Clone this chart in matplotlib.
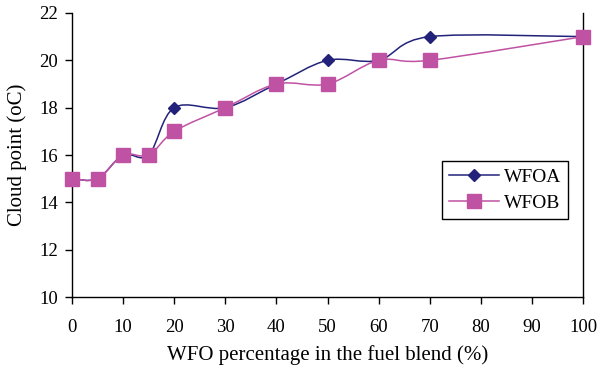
import matplotlib
matplotlib.use("Agg")
import matplotlib.pyplot as plt
import numpy as np
from matplotlib.path import Path
from matplotlib.patches import PathPatch

plt.rcParams['font.family'] = ['Liberation Serif', 'DejaVu Serif']

blend = [0, 5, 10, 15, 20, 30, 40, 50, 60, 70, 100]
wfoa = [15, 15, 16, 16, 18, 18, 19, 20, 20, 21, 21]
wfob = [15, 15, 16, 16, 17, 18, 19, 19, 20, 20, 21]

col_a = '#22227a'
col_b = '#c052a4'


def smooth_path(x, y):
    # excel-like smoothed line: cubic bezier through the points
    p = np.column_stack([x, y]).astype(float)
    verts = [p[0]]
    codes = [Path.MOVETO]
    n = len(p)
    for i in range(n - 1):
        p0 = p[i - 1] if i > 0 else p[i]
        p3 = p[i + 2] if i + 2 < n else p[i + 1]
        c1 = p[i] + (p[i + 1] - p0) / 6
        c2 = p[i + 1] - (p3 - p[i]) / 6
        verts += [c1, c2, p[i + 1]]
        codes += [Path.CURVE4] * 3
    return Path(verts, codes)


fig = plt.figure(figsize=(6, 3.7), dpi=100)
ax = fig.add_axes([0.12, 0.197, 0.852, 0.768])

for ys, c in [(wfoa, col_a), (wfob, col_b)]:
    ax.add_patch(PathPatch(smooth_path(blend, ys), fill=False, edgecolor=c, lw=1.1))

ax.plot(blend, wfoa, ls='none', marker='D', ms=6.5, color=col_a, zorder=3, clip_on=False)
ax.plot(blend, wfob, ls='none', marker='s', ms=10, color=col_b, zorder=4, clip_on=False)

# legend proxies
ax.plot([], [], color=col_a, lw=1.1, marker='D', ms=6.5, label='WFOA')
ax.plot([], [], color=col_b, lw=1.1, marker='s', ms=10, label='WFOB')
leg = ax.legend(loc='center', bbox_to_anchor=(0.847, 0.377),
                fancybox=False, framealpha=1, edgecolor='black',
                fontsize=14, handlelength=2.6, borderpad=0.35, labelspacing=0.45,
                handletextpad=0.25, borderaxespad=0)
leg.get_frame().set_linewidth(1.0)

ax.set_xlim(0, 100)
ax.set_ylim(10, 22)
ax.set_xticks(np.arange(0, 101, 10))
ax.set_yticks(np.arange(10, 23, 2))
ax.spines['top'].set_visible(False)
for s in ['left', 'bottom', 'right']:
    ax.spines[s].set_linewidth(1.0)
ax.tick_params(direction='out', length=5, width=1, labelsize=13.5)
ax.tick_params(axis='x', pad=11)
ax.tick_params(axis='y', pad=5)
ax.set_xlabel('WFO percentage in the fuel blend (%)', fontsize=15, labelpad=6)
ax.set_ylabel('Cloud point (oC)', fontsize=15, labelpad=9)

fig.savefig('out.png', dpi=100)
